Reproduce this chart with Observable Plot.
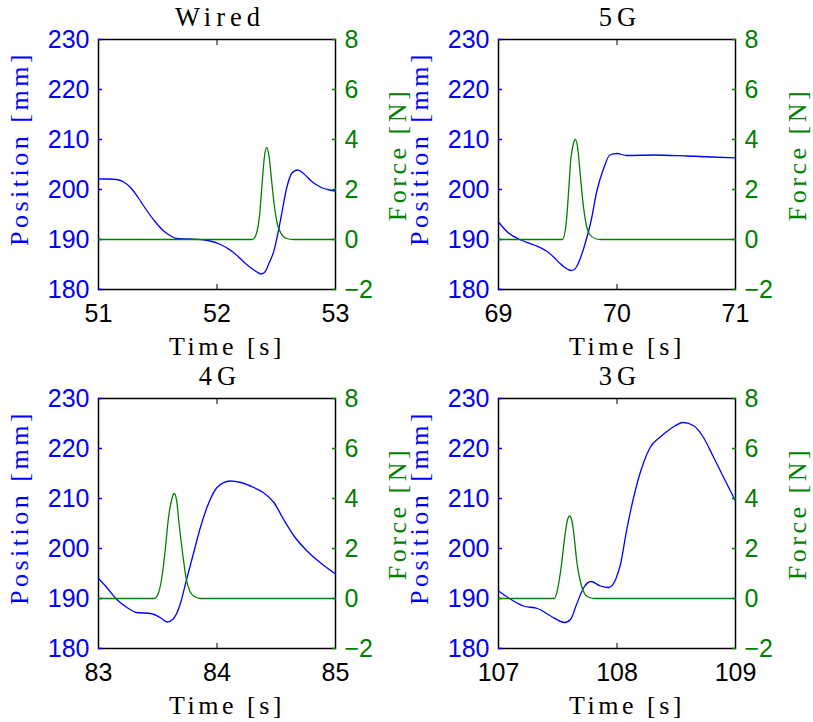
<!DOCTYPE html>
<html><head><meta charset="utf-8">
<script src="https://cdn.jsdelivr.net/npm/d3@7"></script>
<script src="https://cdn.jsdelivr.net/npm/@observablehq/plot@0.6"></script>
<style>
body{margin:0;background:#fff;}
#fig{position:relative;width:813px;height:722px;background:#fff;overflow:hidden;}
#fig svg{position:absolute;}
#fig g[font-family="Liberation Serif"]{letter-spacing:3.5px;}
#fig g[font-family="Liberation Serif"][font-size="26.5"]{letter-spacing:5px;}
</style></head><body><div id="fig"></div>
<script>
const titles = ["Wired", "5G", "4G", "3G"];
const timeTicks = [[51, 52, 53], [69, 70, 71], [83, 84, 85], [107, 108, 109]];
const positionTicks = [180, 190, 200, 210, 220, 230];
const forceTicks = [-2, 0, 2, 4, 6, 8];

// Wired
const wiredPosTime = [51.00, 51.08, 51.155, 51.22, 51.27, 51.34, 51.41, 51.48, 51.55, 51.61, 51.66, 51.77, 51.92, 52.03, 52.14, 52.25, 52.33, 52.37, 52.40, 52.44, 52.48, 52.51, 52.54, 52.59, 52.63, 52.68, 52.73, 52.80, 52.88, 52.95, 53.00];
const wiredPos     = [202.1, 202.1, 202.0, 201.4, 200.4, 198.2, 195.7, 193.5, 191.7, 190.7, 190.2, 190.1, 189.8, 189.0, 187.4, 185.0, 183.6, 183.1, 183.4, 185.3, 187.7, 190.8, 194.4, 200.5, 203.2, 203.9, 203.2, 201.6, 200.4, 199.9, 199.7];
const wiredForceTime = [51.00, 52.30, 52.33, 52.36, 52.38, 52.40, 52.42, 52.44, 52.46, 52.48, 52.51, 52.54, 52.58, 52.65, 53.00];
const wiredForce     = [0, 0, 0.2, 1.0, 2.2, 3.3, 3.68, 3.3, 2.4, 1.5, 0.6, 0.25, 0.05, 0, 0];

// 5G
const g5PosTime = [69.00, 69.07, 69.19, 69.30, 69.41, 69.47, 69.52, 69.58, 69.61, 69.64, 69.66, 69.69, 69.72, 69.78, 69.83, 69.89, 69.94, 70.00, 70.08, 70.31, 70.59, 70.80, 71.00];
const g5Pos     = [193.5, 191.6, 189.9, 188.9, 187.6, 186.4, 185.2, 184.1, 183.8, 184.0, 184.6, 186.2, 188.3, 193.6, 199.7, 204.4, 206.9, 207.2, 206.8, 206.9, 206.7, 206.5, 206.3];
const g5ForceTime = [69.00, 69.54, 69.57, 69.59, 69.61, 69.63, 69.65, 69.67, 69.69, 69.71, 69.74, 69.77, 69.82, 69.86, 71.00];
const g5Force     = [0, 0, 0.6, 1.8, 3.2, 3.8, 4.0, 3.6, 2.6, 1.6, 0.6, 0.2, 0.03, 0, 0];

// 4G
const g4PosTime = [83.00, 83.07, 83.15, 83.24, 83.32, 83.44, 83.52, 83.58, 83.63, 83.69, 83.74, 83.80, 83.86, 83.92, 84.00, 84.11, 84.20, 84.31, 84.39, 84.48, 84.56, 84.65, 84.76, 84.87, 85.00];
const g4Pos     = [194.0, 192.2, 189.9, 188.2, 187.2, 187.0, 186.2, 185.3, 185.9, 188.9, 193.5, 198.9, 204.2, 208.5, 212.2, 213.5, 213.2, 212.2, 211.2, 209.2, 205.9, 202.5, 199.5, 197.2, 194.9];
const g4ForceTime = [83.00, 83.47, 83.50, 83.53, 83.56, 83.59, 83.62, 83.64, 83.66, 83.68, 83.71, 83.74, 83.77, 83.81, 83.86, 85.00];
const g4Force     = [0, 0, 0.15, 0.7, 1.8, 3.2, 4.0, 4.2, 3.9, 3.0, 1.8, 0.8, 0.3, 0.08, 0, 0];

// 3G
const g3PosTime = [107.00, 107.10, 107.21, 107.33, 107.44, 107.56, 107.61, 107.66, 107.72, 107.78, 107.86, 107.93, 107.99, 108.03, 108.08, 108.14, 108.21, 108.28, 108.37, 108.45, 108.56, 108.65, 108.73, 108.81, 108.90, 109.00];
const g3Pos     = [191.5, 189.9, 188.5, 188.0, 186.5, 185.2, 185.9, 188.9, 192.2, 193.4, 192.5, 192.2, 193.9, 196.9, 203.5, 210.2, 216.2, 220.2, 222.4, 223.9, 225.2, 224.5, 222.2, 218.5, 214.2, 209.5];
const g3ForceTime = [107.00, 107.47, 107.50, 107.53, 107.56, 107.58, 107.60, 107.62, 107.64, 107.66, 107.69, 107.72, 107.76, 107.82, 109.00];
const g3Force     = [0, 0, 0.4, 1.3, 2.5, 3.1, 3.3, 3.1, 2.4, 1.5, 0.7, 0.25, 0.05, 0, 0];

const series = [
  [wiredPosTime, wiredPos, wiredForceTime, wiredForce],
  [g5PosTime, g5Pos, g5ForceTime, g5Force],
  [g4PosTime, g4Pos, g4ForceTime, g4Force],
  [g3PosTime, g3Pos, g3ForceTime, g3Force]
];

const BLUE = "#0000ff", GREEN = "#008000";
const SANS = "Liberation Sans", SERIF = "Liberation Serif";
const W = 400, H = 361;
const margins = {marginLeft: 98, marginRight: 65, marginTop: 39, marginBottom: 72};
const origins = [[0, 0], [400, 0], [0, 359], [400, 359]];
const fig = document.getElementById("fig");
const intFmt = d3.format("d");

titles.forEach((title, i) => {
  const [pt, pv, ft, fv] = series[i];
  const posData = pt.map((t, j) => ({t, v: pv[j]}));
  const forceData = ft.map((t, j) => ({t, v: fv[j]}));
  const xt = timeTicks[i];
  const xDomain = [xt[0], xt[xt.length - 1]];
  const style = {background: "transparent", overflow: "visible", fontFamily: SANS};

  const a = Plot.plot({
    width: W, height: H, ...margins, style,
    x: {domain: xDomain},
    y: {domain: [180, 230]},
    marks: [
      Plot.frame({stroke: "black", strokeWidth: 1.5}),
      Plot.line(posData, {x: "t", y: "v", stroke: BLUE, strokeWidth: 1.3, curve: "monotone-x"}),
      Plot.axisX({anchor: "bottom", ticks: xt, tickFormat: intFmt, tickSize: -5, tickPadding: 20, label: null, fontSize: 25, fontFamily: SANS, color: "black"}),
      Plot.axisX({anchor: "top", ticks: xt, tickSize: -5, tickFormat: () => "", label: null, color: "black"}),
      Plot.axisY({anchor: "left", ticks: positionTicks, tickFormat: intFmt, tickSize: -4, tickPadding: 13, label: null, fontSize: 25, fontFamily: SANS, color: BLUE, line: true, strokeWidth: 1.5}),
      Plot.text([title], {frameAnchor: "top", dx: 3, dy: -14, lineAnchor: "bottom", textAnchor: "middle", fontSize: 26.5, fontFamily: SERIF, fill: "black"}),
      Plot.text(["Time [s]"], {frameAnchor: "bottom", dx: 10, dy: 65, lineAnchor: "bottom", textAnchor: "middle", fontSize: 26, fontFamily: SERIF, fill: "black"}),
      Plot.text(["Position [mm]"], {frameAnchor: "left", dx: -71, dy: -16, rotate: -90, lineAnchor: "bottom", textAnchor: "middle", fontSize: 26, fontFamily: SERIF, fill: BLUE})
    ]
  });
  a.style.left = origins[i][0] + "px";
  a.style.top = origins[i][1] + "px";
  fig.appendChild(a);

  const b = Plot.plot({
    width: W, height: H, ...margins, style,
    x: {domain: xDomain, axis: null},
    y: {domain: [-2, 8]},
    marks: [
      Plot.line(forceData, {x: "t", y: "v", stroke: GREEN, strokeWidth: 1.3, curve: "monotone-x"}),
      Plot.axisY({anchor: "right", ticks: forceTicks, tickFormat: intFmt, tickSize: -4, tickPadding: 13, label: null, fontSize: 25, fontFamily: SANS, color: GREEN, line: true, strokeWidth: 1.5}),
      Plot.text(["Force [N]"], {frameAnchor: "right", dx: 70, dy: -10, rotate: -90, lineAnchor: "bottom", textAnchor: "middle", fontSize: 26, fontFamily: SERIF, fill: GREEN})
    ]
  });
  b.style.left = origins[i][0] + "px";
  b.style.top = origins[i][1] + "px";
  fig.appendChild(b);
});
</script></body></html>
